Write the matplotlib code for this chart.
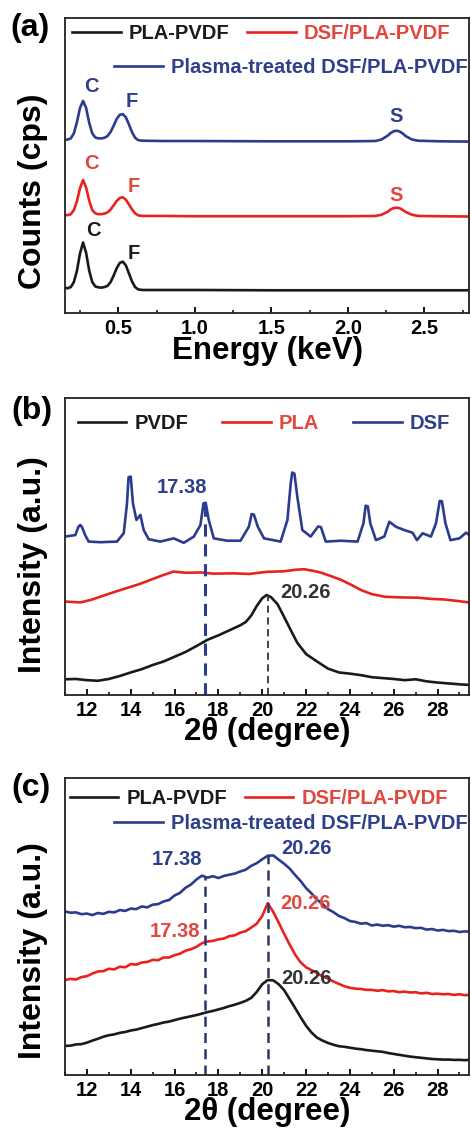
import numpy as np
import matplotlib
matplotlib.use("Agg")
import matplotlib.pyplot as plt
from matplotlib.ticker import MultipleLocator, FormatStrFormatter

plt.rcParams['font.family'] = ['Liberation Sans', 'DejaVu Sans']
plt.rcParams['font.weight'] = 'bold'

BLACK = '#1a1a1a'
RED = '#e8231f'
BLUE = '#2b3c8e'
RED_TXT = '#e2473d'
BLUE_TXT = '#2e3f8c'

# ---------------- (a) EDS spectra (counts, offset) ----------------
energy = [0.15, 0.17, 0.19, 0.21, 0.23, 0.25, 0.27, 0.29, 0.31, 0.33, 0.35, 0.37, 0.39,
          0.41, 0.43, 0.45, 0.47, 0.49, 0.51, 0.53, 0.55, 0.57, 0.59, 0.61, 0.63,
          0.66, 0.8, 1.0, 1.5, 2.0, 2.18, 2.22, 2.26, 2.28, 2.30, 2.32, 2.34, 2.36,
          2.38, 2.42, 2.46, 2.6, 2.8]
eds_pla_pvdf = [8.6, 8.5, 8.9, 10.6, 14.4, 20.3, 24.0, 20.5, 14.5, 10.6, 9.1, 8.8, 8.7,
                8.9, 9.3, 10.6, 12.8, 15.3, 17.1, 17.5, 16.2, 13.5, 10.8, 8.9, 8.1,
                7.9, 7.9, 7.9, 7.8, 7.8, 7.8, 7.8, 7.8, 7.8, 7.8, 7.8, 7.8, 7.8,
                7.8, 7.8, 7.8, 7.8, 7.8]
eds_dsf_pla_pvdf = [33.3, 33.3, 33.6, 35.0, 38.0, 42.4, 45.2, 42.6, 38.2, 35.0, 33.9, 33.6, 33.6,
                    33.8, 34.2, 35.2, 36.6, 38.1, 39.1, 39.3, 38.5, 36.9, 35.2, 33.9, 33.2,
                    33.0, 33.0, 32.9, 32.9, 32.9, 33.0, 33.4, 34.4, 35.2, 35.7, 35.8, 35.6, 35.0,
                    34.3, 33.4, 33.0, 32.9, 32.8]
eds_plasma = [58.8, 58.9, 59.3, 61.0, 64.8, 69.6, 72.0, 69.6, 64.6, 61.0, 59.6, 59.3, 59.3,
              59.5, 60.1, 61.5, 63.6, 65.9, 67.3, 67.5, 66.4, 64.0, 61.4, 59.5, 58.7,
              58.5, 58.4, 58.4, 58.3, 58.3, 58.4, 58.9, 60.2, 61.1, 61.7, 61.9, 61.6, 60.9,
              60.0, 58.9, 58.5, 58.3, 58.2]
# element labels: (text, energy, height, colour index)
eds_labels = [('C', 0.326, 76.8, 2), ('F', 0.588, 71.8, 2), ('S', 2.315, 66.7, 2),
              ('C', 0.326, 50.8, 1), ('F', 0.598, 42.9, 1), ('S', 2.315, 40.1, 1),
              ('C', 0.337, 28.2, 0), ('F', 0.598, 20.3, 0)]

# ---------------- (b) XRD of raw materials ----------------
pvdf_x = [11.0, 11.5, 12.0, 12.5, 13.0, 13.5, 14.0, 14.5, 15.0, 15.5, 16.0, 16.5, 17.0,
          17.5, 18.0, 18.5, 19.0, 19.25, 19.5, 19.75, 20.0, 20.2, 20.4, 20.7, 21.0, 21.3,
          21.6, 22.0, 22.5, 23.0, 23.5, 24.0, 24.5, 25.0, 25.5, 26.0, 26.5, 27.0, 27.5,
          28.0, 28.5, 29.0, 29.45]
pvdf_y = [5.3, 5.4, 5.0, 4.8, 5.4, 6.4, 7.6, 8.7, 10.1, 11.3, 12.9, 14.5, 16.5,
          18.6, 20.1, 21.8, 23.5, 24.6, 26.8, 30.0, 32.6, 33.7, 33.0, 30.6, 26.3, 21.9,
          17.6, 13.8, 11.3, 8.9, 7.6, 7.2, 6.7, 6.0, 5.7, 5.4, 5.0, 5.3, 4.6,
          4.2, 3.9, 3.6, 3.4]
pla_x = [11.0, 11.7, 12.2, 12.6, 13.2, 13.8, 14.4, 14.9, 15.4, 15.95, 16.5, 17.2, 17.8,
         18.7, 19.4, 20.2, 21.0, 21.5, 21.9, 22.3, 22.7, 23.2, 23.6, 24.1, 24.5, 25.0,
         25.6, 26.3, 27.1, 27.7, 28.3, 28.9, 29.45]
pla_y = [31.5, 31.2, 32.1, 33.1, 34.6, 36.0, 37.4, 38.8, 40.2, 41.6, 41.2, 41.3, 40.9,
         41.0, 40.8, 41.5, 41.7, 42.2, 42.4, 41.9, 41.2, 39.9, 38.8, 37.0, 35.4, 34.0,
         33.1, 32.9, 32.8, 32.4, 32.2, 31.7, 31.2]
dsf_x = [11.0, 11.47, 11.62, 11.70, 11.78, 11.92, 12.08, 12.61, 13.37, 13.68, 13.83, 13.90,
         14.0, 14.10, 14.26, 14.44, 14.59, 14.82, 15.35, 15.96, 16.42, 16.88, 17.18, 17.32,
         17.42, 17.56, 17.79, 18.40, 19.01, 19.39, 19.52, 19.62, 19.80, 20.08, 20.84, 21.15,
         21.30, 21.37, 21.47, 21.60, 21.83, 22.21, 22.55, 22.68, 22.90, 23.59, 24.35, 24.62,
         24.72, 24.82, 24.93, 25.19, 25.57, 25.80, 26.10, 26.48, 26.86, 27.06, 27.32, 27.70,
         27.93, 28.10, 28.20, 28.36, 28.59, 29.00, 29.30, 29.45]
dsf_y = [53.4, 53.9, 56.8, 57.3, 56.5, 53.9, 51.7, 51.5, 51.7, 54.5, 64.6, 73.4,
         73.6, 64.6, 59.0, 60.7, 55.6, 52.5, 51.7, 52.8, 51.3, 53.4, 57.3, 64.6,
         64.8, 59.0, 52.8, 52.0, 52.0, 56.7, 61.0, 60.8, 56.7, 52.8, 51.7, 59.0,
         71.3, 75.0, 74.6, 66.9, 55.6, 53.4, 56.8, 56.6, 51.7, 52.0, 51.7, 57.9,
         63.8, 63.6, 57.9, 52.2, 53.4, 58.4, 56.7, 55.6, 54.7, 52.2, 54.5, 53.4,
         57.9, 65.4, 65.3, 57.9, 52.2, 52.8, 54.7, 53.9]

# ---------------- (c) XRD of membranes ----------------
theta_c = [11.0, 11.25, 11.5, 11.75, 12.0, 12.25, 12.5, 12.75, 13.0, 13.25, 13.5, 13.75,
           14.0, 14.25, 14.5, 14.75, 15.0, 15.25, 15.5, 15.75, 16.0, 16.25, 16.5, 16.75,
           17.0, 17.25, 17.5, 17.75, 18.0, 18.25, 18.5, 18.75, 19.0, 19.25, 19.5, 19.75,
           20.0, 20.25, 20.5, 20.75, 21.0, 21.25, 21.5, 21.75, 22.0, 22.25, 22.5, 22.75,
           23.0, 23.25, 23.5, 23.75, 24.0, 24.25, 24.5, 24.75, 25.0, 25.25, 25.5, 25.75,
           26.0, 26.25, 26.5, 26.75, 27.0, 27.25, 27.5, 27.75, 28.0, 28.25, 28.5, 28.75,
           29.0, 29.25, 29.45]
xrd_pla_pvdf = [9.8, 9.9, 10.3, 10.4, 10.9, 11.6, 12.2, 12.9, 13.4, 13.7, 14.2, 14.5,
                15.0, 15.3, 15.8, 16.3, 16.8, 17.2, 17.7, 18.0, 18.5, 19.0, 19.4, 19.8,
                20.2, 20.7, 21.2, 21.6, 22.1, 22.6, 23.2, 23.7, 24.3, 25.0, 26.0, 28.0,
                30.6, 32.0, 31.9, 30.6, 28.6, 25.6, 22.6, 19.5, 16.6, 14.3, 12.6, 11.6,
                10.8, 10.2, 9.7, 9.5, 9.2, 8.9, 8.7, 8.4, 8.2, 8.0, 7.8, 7.4,
                7.1, 6.8, 6.5, 6.2, 6.0, 5.8, 5.6, 5.4, 5.3, 5.2, 5.2, 5.1,
                5.1, 5.0, 5.1]
xrd_dsf_pla_pvdf = [32.0, 32.4, 32.2, 33.0, 33.3, 34.2, 34.9, 35.0, 35.8, 35.6, 36.5, 36.3,
                    37.4, 37.2, 37.9, 38.1, 38.8, 38.7, 39.6, 39.6, 40.4, 40.9, 41.9, 42.4,
                    43.2, 44.4, 45.0, 45.2, 45.7, 46.0, 46.8, 47.1, 48.0, 48.5, 49.7, 51.0,
                    53.6, 57.9, 55.0, 51.4, 47.6, 44.0, 40.6, 38.0, 36.3, 35.3, 34.4, 33.2,
                    32.5, 31.5, 30.7, 29.9, 29.4, 29.1, 29.0, 28.7, 28.7, 28.4, 28.6, 28.2,
                    28.3, 27.9, 28.1, 27.8, 27.9, 27.5, 27.7, 27.3, 27.4, 27.2, 27.3, 27.0,
                    27.2, 26.9, 27.0]
xrd_plasma = [55.1, 54.7, 54.8, 54.2, 54.4, 53.9, 54.6, 54.3, 55.0, 54.8, 55.6, 55.3,
              56.1, 55.9, 56.8, 56.5, 57.4, 57.6, 58.5, 59.0, 60.5, 61.4, 63.1, 64.2,
              65.9, 67.2, 66.5, 67.0, 66.4, 67.1, 67.5, 67.9, 68.6, 69.2, 70.5, 71.4,
              72.7, 73.9, 74.0, 72.6, 71.2, 69.6, 67.4, 65.4, 63.0, 61.2, 59.1, 57.6,
              55.9, 54.9, 53.6, 52.9, 51.9, 51.6, 51.0, 51.2, 50.4, 50.7, 50.3, 50.5,
              50.0, 50.3, 49.8, 49.9, 49.5, 49.6, 49.0, 49.2, 48.7, 48.9, 48.5, 48.6,
              48.2, 48.4, 48.3]

peak_pos = [17.38, 20.26]
peak_text = ['17.38', '20.26']
b_line_tops = [65.2, 33.7]
c_line_tops = [67.2, 74.0]

W, H = 471, 1138
LW = 1.9
fig = plt.figure(figsize=(W / 100, H / 100), dpi=100)


def make_axes(top_px, bottom_px):
    return fig.add_axes([65 / W, 1 - bottom_px / H, 404.3 / W, (bottom_px - top_px) / H])


def style(ax, xlim, major, minor, xlabel, ylabel, ylab_y):
    ax.set_xlim(*xlim)
    ax.set_ylim(0, 100)
    ax.set_yticks([])
    ax.xaxis.set_major_locator(MultipleLocator(major))
    ax.xaxis.set_minor_locator(MultipleLocator(minor))
    ax.tick_params(axis='x', which='major', direction='in', length=4, width=1.3,
                   labelsize=14.5, pad=4, top=False)
    ax.tick_params(axis='x', which='minor', direction='in', length=2.5, width=1.1, top=False)
    for lab in ax.get_xticklabels():
        lab.set_fontweight('bold')
    for sp in ax.spines.values():
        sp.set_linewidth(1.3)
        sp.set_color('#222222')
    ax.set_xlabel(xlabel, fontsize=22.5, fontweight='bold', labelpad=-1.5)
    ax.set_ylabel(ylabel, fontsize=23, fontweight='bold')
    ax.yaxis.set_label_coords(-0.043, ylab_y)


leg_kw = dict(frameon=False, handlelength=2.4, handletextpad=0.4, columnspacing=0.9,
              borderpad=0, borderaxespad=0, prop=dict(size=14.5, weight='bold'))

# ---- (a)
ax = make_axes(18.3, 313.3)
la, = ax.plot(energy, eds_pla_pvdf, color=BLACK, lw=LW)
lb, = ax.plot(energy, eds_dsf_pla_pvdf, color=RED, lw=LW)
lc, = ax.plot(energy, eds_plasma, color=BLUE, lw=LW)
txt_cols = [BLACK, RED_TXT, BLUE_TXT]
for t, e, h, c in eds_labels:
    ax.text(e, h, t, color=txt_cols[c], fontsize=14.5, ha='center', va='center')
style(ax, (0.152, 2.794), 0.5, 0.25, 'Energy (keV)', 'Counts (cps)', 0.415)
ax.xaxis.set_major_formatter(FormatStrFormatter('%.1f'))
l1 = ax.legend([la, lb], ['PLA-PVDF', 'DSF/PLA-PVDF'], ncol=2, loc='center left',
               bbox_to_anchor=(0.018, 0.947), labelcolor=[BLACK, RED_TXT], **leg_kw)
ax.add_artist(l1)
ax.legend([lc], ['Plasma-treated DSF/PLA-PVDF'], loc='center right',
          bbox_to_anchor=(0.995, 0.834), labelcolor=[BLUE_TXT], **leg_kw)

# ---- (b)
ax = make_axes(398.3, 695)
pa, = ax.plot(pvdf_x, pvdf_y, color=BLACK, lw=LW)
pb, = ax.plot(pla_x, pla_y, color=RED, lw=LW)
pc, = ax.plot(dsf_x, dsf_y, color=BLUE, lw=LW)
ax.vlines(peak_pos[0], 0, b_line_tops[0], colors=BLUE, linestyles=(0, (4, 2.5)), lw=2.2)
ax.vlines(peak_pos[1], 0, b_line_tops[1], colors='#333333', linestyles=(0, (4, 2.5)), lw=1.3)
ax.text(16.36, 69.8, peak_text[0], color=BLUE_TXT, fontsize=14.5, ha='center', va='center')
ax.text(21.98, 34.4, peak_text[1], color='#333333', fontsize=14.5, ha='center', va='center')
style(ax, (11.0, 29.45), 2, 1, '2θ (degree)', 'Intensity (a.u.)', 0.44)
kw_b = dict(leg_kw)
kw_b['columnspacing'] = 1.7
ax.legend([pa, pb, pc], ['PVDF', 'PLA', 'DSF'], ncol=3, loc='center left',
          bbox_to_anchor=(0.032, 0.916), labelcolor=[BLACK, RED_TXT, BLUE_TXT], **kw_b)

# ---- (c)
ax = make_axes(778.3, 1075)
ca, = ax.plot(theta_c, xrd_pla_pvdf, color=BLACK, lw=LW)
cb, = ax.plot(theta_c, xrd_dsf_pla_pvdf, color=RED, lw=LW)
cc, = ax.plot(theta_c, xrd_plasma, color=BLUE, lw=LW)
for p, top in zip(peak_pos, c_line_tops):
    ax.vlines(p, 0, top, colors='#2a3570', linestyles=(0, (4, 2.5)), lw=1.8)
ax.text(16.1, 72.5, peak_text[0], color=BLUE_TXT, fontsize=14.5, ha='center', va='center')
ax.text(22.04, 76.4, peak_text[1], color=BLUE_TXT, fontsize=14.5, ha='center', va='center')
ax.text(16.04, 48.3, peak_text[0], color=RED_TXT, fontsize=14.5, ha='center', va='center')
ax.text(21.98, 57.9, peak_text[1], color=RED_TXT, fontsize=14.5, ha='center', va='center')
ax.text(22.04, 32.6, peak_text[1], color='#333333', fontsize=14.5, ha='center', va='center')
style(ax, (11.0, 29.45), 2, 1, '2θ (degree)', 'Intensity (a.u.)', 0.42)
l1 = ax.legend([ca, cb], ['PLA-PVDF', 'DSF/PLA-PVDF'], ncol=2, loc='center left',
               bbox_to_anchor=(0.012, 0.933), labelcolor=[BLACK, RED_TXT], **leg_kw)
ax.add_artist(l1)
ax.legend([cc], ['Plasma-treated DSF/PLA-PVDF'], loc='center right',
          bbox_to_anchor=(0.995, 0.846), labelcolor=[BLUE_TXT], **leg_kw)

# panel letters
for lab, (px, py) in zip(['(a)', '(b)', '(c)'], [(30, 28), (32, 411), (31, 788)]):
    fig.text(px / W, 1 - py / H, lab, fontsize=23, ha='center', va='center')

fig.savefig('out.png', dpi=100)
